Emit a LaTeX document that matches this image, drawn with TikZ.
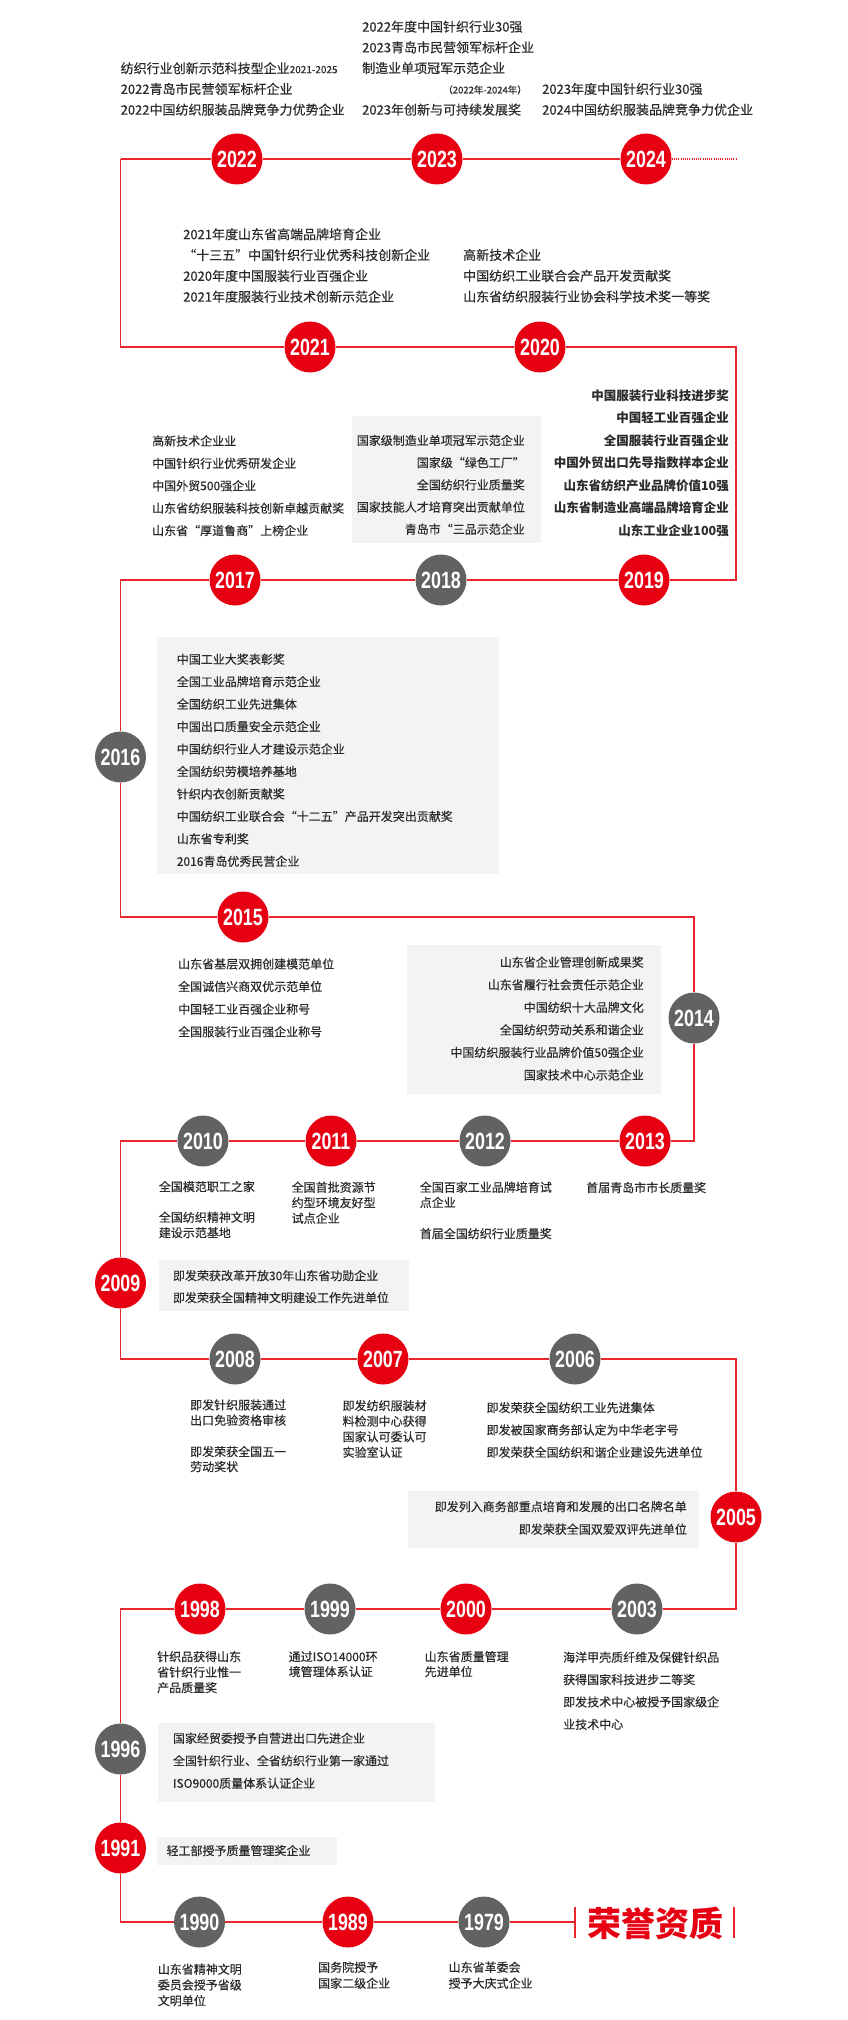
\documentclass[tikz,border=0pt]{standalone}
\usepackage{fontspec}
\newfontfamily\cjk[FakeBold=0.35]{Noto Sans CJK SC}
\newfontfamily\cjkb{Noto Sans CJK SC}
\newfontfamily\yearfont[FakeStretch=0.76]{Liberation Sans}
\definecolor{cred}{HTML}{E60012}
\definecolor{lred}{HTML}{E8262D}
\definecolor{cgray}{HTML}{626262}
\definecolor{boxg}{HTML}{F3F3F3}
\definecolor{ctxt}{HTML}{2B2B2B}
\tikzset{
  tl/.style={draw=lred, line width=1.8pt},
  yr/.style={circle, minimum size=51pt, inner sep=0pt, text=white, font=\yearfont\bfseries\fontsize{23.5}{23.5}\selectfont},
  yred/.style={yr, fill=cred},
  ygray/.style={yr, fill=cgray},
  txt/.style={inner sep=0pt, text=ctxt, font=\cjk\fontsize{12}{12}\selectfont, text height=10.5pt, text depth=1.5pt},
  txtl/.style={txt, font=\cjk\fontsize{13}{13}\selectfont, text height=11.4pt, text depth=1.6pt},
  txtb/.style={txt, font=\cjkb\bfseries\fontsize{12.5}{12.5}\selectfont},
  txts/.style={txt, font=\cjk\fontsize{9.5}{9.5}\selectfont},
  boxbg/.style={fill=boxg},
}
\newcommand\txtlines[7]{%
  \foreach \itm [count=\i] in {#7} {\node[#1, anchor=#6] (#2-\i) at (#3,{#4+(\i-1)*#5}) {\itm};}}
\begin{document}
\begin{tikzpicture}[x=1pt,y=-1pt]
\path[use as bounding box, fill=white] (0,0) rectangle (848,2020);
% background boxes
\fill[boxbg] (352,416) rectangle (541,543);
\fill[boxbg] (156.5,637) rectangle (499,874);
\fill[boxbg] (407,945) rectangle (661,1094);
\fill[boxbg] (158.5,1260) rectangle (409,1311);
\fill[boxbg] (408,1491) rectangle (699,1548);
\fill[boxbg] (157.5,1722.5) rectangle (435,1802);
\fill[boxbg] (156.5,1836.5) rectangle (337,1864.5);
% year circles
\node[yred] (y2022) at (237,159) {2022};
\node[yred] (y2023) at (437,159) {2023};
\node[yred] (y2024) at (646,159) {2024};
\node[yred] (y2021) at (310,347) {2021};
\node[yred] (y2020) at (540,347) {2020};
\node[yred] (y2017) at (235,580) {2017};
\node[ygray] (y2018) at (441,580) {2018};
\node[yred] (y2019) at (644,580) {2019};
\node[ygray] (y2016) at (120.5,757) {2016};
\node[yred] (y2015) at (243,917) {2015};
\node[ygray] (y2014) at (694,1018) {2014};
\node[ygray] (y2010) at (203,1141) {2010};
\node[yred] (y2011) at (331,1141) {2011};
\node[ygray] (y2012) at (485,1141) {2012};
\node[yred] (y2013) at (645,1141) {2013};
\node[yred] (y2009) at (120.5,1283) {2009};
\node[ygray] (y2008) at (235,1359) {2008};
\node[yred] (y2007) at (383,1359) {2007};
\node[ygray] (y2006) at (575,1359) {2006};
\node[yred] (y2005) at (736,1517) {2005};
\node[yred] (y1998) at (200,1609) {1998};
\node[ygray] (y1999) at (330,1609) {1999};
\node[yred] (y2000) at (466,1609) {2000};
\node[ygray] (y2003) at (637,1609) {2003};
\node[ygray] (y1996) at (120.5,1749) {1996};
\node[yred] (y1991) at (120.5,1848) {1991};
\node[ygray] (y1990) at (199.5,1922) {1990};
\node[yred] (y1989) at (348,1922) {1989};
\node[ygray] (y1979) at (484,1922) {1979};
% corners
\coordinate (cA) at (120.5,159);
\coordinate (cAe) at (737,159);
\coordinate (cB) at (120.5,347);
\coordinate (cBr) at (736,347);
\coordinate (cCr) at (736,580);
\coordinate (cC) at (120.5,580);
\coordinate (cD) at (120.5,917);
\coordinate (cDr) at (694,917);
\coordinate (cEr) at (694,1141);
\coordinate (cE) at (120.5,1141);
\coordinate (cF) at (120.5,1359);
\coordinate (cFr) at (736,1359);
\coordinate (cGr) at (736,1609);
\coordinate (cG) at (120.5,1609);
\coordinate (cH) at (120.5,1922);
\coordinate (tk1) at (575,1922);
\coordinate (tk1t) at (575,1907);
\coordinate (tk1b) at (575,1938);
\coordinate (tk2t) at (734,1907);
\coordinate (tk2b) at (734,1938);
% timeline
\draw[tl] (cA) -- (y2022) -- (y2023) -- (y2024);
\draw[lred, line width=1.5pt, dash pattern=on 1pt off 1.2pt] (y2024) -- (cAe);
\draw[tl] (cA) -- (cB) -- (y2021) -- (y2020) -- (cBr) -- (cCr) -- (y2019) -- (y2018) -- (y2017) -- (cC) -- (y2016) -- (cD) -- (y2015) -- (cDr) -- (y2014) -- (cEr) -- (y2013) -- (y2012) -- (y2011) -- (y2010) -- (cE) -- (y2009) -- (cF) -- (y2008) -- (y2007) -- (y2006) -- (cFr) -- (y2005) -- (cGr) -- (y2003) -- (y2000) -- (y1999) -- (y1998) -- (cG) -- (y1996) -- (y1991) -- (cH) -- (y1990) -- (y1989) -- (y1979) -- (tk1);
\draw[lred, line width=2pt] (tk1t) -- (tk1b);
\draw[lred, line width=2pt] (tk2t) -- (tk2b);
\node[font=\cjkb\bfseries\fontsize{34}{34}\selectfont, text=cred, inner sep=0pt] (title) at (655.5,1923) {荣誉资质};
% row A
\txtlines{txtl}{a1}{120.5}{68.3}{20.7}{west}{纺织行业创新示范科技型企业{\fontsize{10}{10}\selectfont 2021-2025},2022青岛市民营领军标杆企业,2022中国纺织服装品牌竞争力优势企业}
\txtlines{txtl}{a2}{362}{26.7}{20.7}{west}{2022年度中国针织行业30强,2023青岛市民营领军标杆企业,制造业单项冠军示范企业}
\node[txts, anchor=east] (a2s) at (527,89) {（2022年-2024年）};
\node[txtl, anchor=west] (a2e) at (362,109.7) {2023年创新与可持续发展奖};
\txtlines{txtl}{a3}{542}{89}{20.7}{west}{2023年度中国针织行业30强,2024中国纺织服装品牌竞争力优企业}
% row B
\txtlines{txtl}{b1}{183}{234.3}{20.8}{west}{2021年度山东省高端品牌培育企业,“十三五”中国针织行业优秀科技创新企业,2020年度中国服装行业百强企业,2021年度服装行业技术创新示范企业}
\txtlines{txtl}{b2}{463}{255}{20.8}{west}{高新技术企业,中国纺织工业联合会产品开发贡献奖,山东省纺织服装行业协会科学技术奖一等奖}
% row C
\txtlines{txtb}{c3}{729}{395.7}{22.5}{east}{中国服装行业科技进步奖,中国轻工业百强企业,全国服装行业百强企业,中国外贸出口先导指数样本企业,山东省纺织产业品牌价值10强,山东省制造业高端品牌培育企业,山东工业企业100强}
\txtlines{txt}{c2}{525}{440.5}{22.2}{east}{国家级制造业单项冠军示范企业,国家级“绿色工厂”,全国纺织行业质量奖,国家技能人才培育突出贡献单位,青岛市“三品示范企业}
\txtlines{txt}{c1}{152}{441}{22.4}{west}{高新技术企业业,中国针织行业优秀研发企业,中国外贸500强企业,山东省纺织服装科技创新卓越贡献奖,山东省“厚道鲁商”上榜企业}
% 2016
\txtlines{txt}{d1}{176.6}{659.3}{22.45}{west}{中国工业大奖表彰奖,全国工业品牌培育示范企业,全国纺织工业先进集体,中国出口质量安全示范企业,中国纺织行业人才建设示范企业,全国纺织劳模培养基地,针织内衣创新贡献奖,中国纺织工业联合会“十二五”产品开发突出贡献奖,山东省专利奖,2016青岛优秀民营企业}
% 2015 / 2014
\txtlines{txt}{e1}{178}{964}{22.6}{west}{山东省基层双拥创建模范单位,全国诚信兴商双优示范单位,中国轻工业百强企业称号,全国服装行业百强企业称号}
\txtlines{txt}{e2}{644}{962.3}{22.55}{east}{山东省企业管理创新成果奖,山东省履行社会责任示范企业,中国纺织十大品牌文化,全国纺织劳动关系和谐企业,中国纺织服装行业品牌价值50强企业,国家技术中心示范企业}
% row E
\node[txt,anchor=west] (f1a) at (158.7,1186.7) {全国模范职工之家};
\txtlines{txt}{f1b}{158.7}{1217.3}{15.4}{west}{全国纺织精神文明,建设示范基地}
\txtlines{txt}{f2}{291.5}{1187.3}{15.5}{west}{全国首批资源节,约型环境友好型,试点企业}
\txtlines{txt}{f3}{419.6}{1187.3}{15.2}{west}{全国百家工业品牌培育试,点企业}
\node[txt,anchor=west] (f3c) at (419.6,1233.7) {首届全国纺织行业质量奖};
\node[txt,anchor=west] (f4) at (586,1187.7) {首届青岛市市长质量奖};
% 2009
\txtlines{txt}{g1}{172.8}{1275.7}{22}{west}{即发荣获改革开放30年山东省功勋企业,即发荣获全国精神文明建设工作先进单位}
% row F
\txtlines{txt}{h1}{190}{1405}{15.3}{west}{即发针织服装通过,出口免验资格审核}
\txtlines{txt}{h1b}{190}{1451.7}{15}{west}{即发荣获全国五一,劳动奖状}
\txtlines{txt}{h2}{342.4}{1405.7}{15.55}{west}{即发纺织服装材,料检测中心获得,国家认可委认可,实验室认证}
\txtlines{txt}{h3}{486.4}{1407.7}{22.3}{west}{即发荣获全国纺织工业先进集体,即发被国家商务部认定为中华老字号,即发荣获全国纺织和谐企业建设先进单位}
% 2005
\txtlines{txt}{i1}{687}{1506.7}{22.6}{east}{即发列入商务部重点培育和发展的出口名牌名单,即发荣获全国双爱双评先进单位}
% row G
\txtlines{txt}{j1}{157}{1656.7}{15.5}{west}{针织品获得山东,省针织行业惟一,产品质量奖}
\txtlines{txt}{j2}{288.5}{1656.7}{15}{west}{通过ISO14000环,境管理体系认证}
\txtlines{txt}{j3}{424.5}{1656.7}{15}{west}{山东省质量管理,先进单位}
\txtlines{txt}{j4}{563}{1657.3}{22.35}{west}{海洋甲壳质纤维及保健针织品,获得国家科技进步二等奖,即发技术中心被授予国家级企,业技术中心}
% 1996 / 1991
\txtlines{txt}{k1}{172.8}{1738.3}{22.5}{west}{国家经贸委授予自营进出口先进企业,全国针织行业、全省纺织行业第一家通过,ISO9000质量体系认证企业}
\node[txt,anchor=west] (k2) at (166.3,1850.7) {轻工部授予质量管理奖企业};
% row H
\txtlines{txt}{l1}{157.6}{1969.3}{15.7}{west}{山东省精神文明,委员会授予省级,文明单位}
\txtlines{txt}{l2}{318}{1967.3}{16}{west}{国务院授予,国家二级企业}
\txtlines{txt}{l3}{448.4}{1967.3}{16}{west}{山东省革委会,授予大庆式企业}
\end{tikzpicture}
\end{document}
